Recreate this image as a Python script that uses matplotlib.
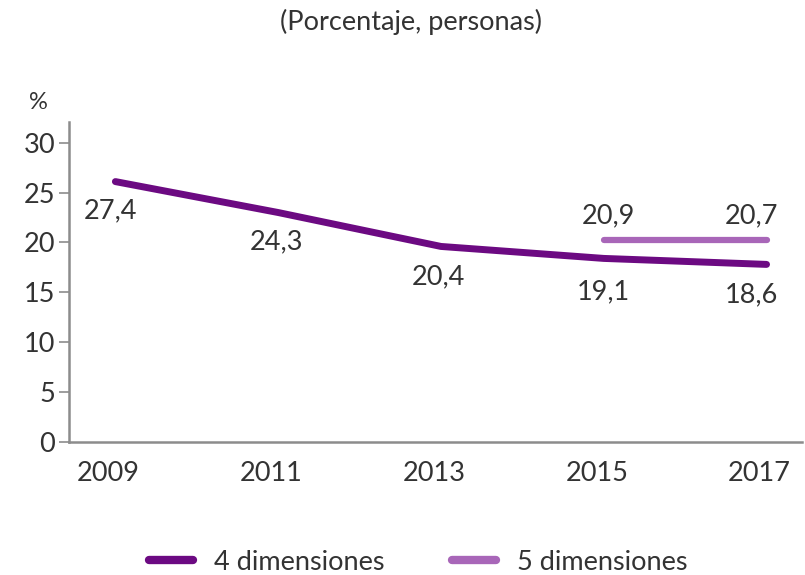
import matplotlib.pyplot as plt
import matplotlib.transforms as mtrans
from matplotlib.lines import Line2D

plt.rcParams['font.family'] = ['Lato', 'DejaVu Sans']

years = [2009, 2011, 2013, 2015, 2017]
dim4 = [26.1, 23.0, 19.6, 18.4, 17.8]
dim4_labels = ['27,4', '24,3', '20,4', '19,1', '18,6']
years5 = [2015, 2017]
dim5 = [20.2, 20.2]
dim5_labels = ['20,9', '20,7']

c4 = '#6c0a82'
c5 = '#a866b8'
txt = '#333333'
axc = '#8c8c8c'
fs = 19.5

fig = plt.figure(figsize=(8.05, 5.75), dpi=100)
ax = fig.add_axes([0.0857, 0.2313, 0.91, 0.557])

ax.plot(years, dim4, color=c4, lw=5, solid_capstyle='round', solid_joinstyle='round')
ax.plot(years5, dim5, color=c5, lw=4.5, solid_capstyle='round')

# label offsets: (pixels in x, data units in y)
px = 81.25
offs4 = [(-5, -2.9), (-2, -2.9), (-3, -3.0), (0, -3.3), (-15, -3.0)]
for x, y, s, (dx, dy) in zip(years, dim4, dim4_labels, offs4):
    ax.text(x + dx / px, y + dy, s, ha='center', va='center', fontsize=fs, color=txt)
offs5 = [(5, 2.5), (-15, 2.5)]
for x, y, s, (dx, dy) in zip(years5, dim5, dim5_labels, offs5):
    ax.text(x + dx / px, y + dy, s, ha='center', va='center', fontsize=fs, color=txt)

ax.set_xlim(2008.43, 2017.43)
ax.set_ylim(0, 32.1)
ax.set_yticks([0, 5, 10, 15, 20, 25, 30])
ax.set_xticks(years)
ax.set_xticklabels([str(y) for y in years])

for s in ['top', 'right']:
    ax.spines[s].set_visible(False)
for s in ['left', 'bottom']:
    ax.spines[s].set_color(axc)
    ax.spines[s].set_linewidth(1.8)

ax.tick_params(axis='y', length=7, width=1.2, color=axc, labelsize=fs, labelcolor=txt, pad=3)
ax.tick_params(axis='x', length=0, labelsize=fs, labelcolor=txt, pad=14)
shift = mtrans.ScaledTranslation(-7 / 100, 0, fig.dpi_scale_trans)
for lab in ax.get_xticklabels():
    lab.set_transform(lab.get_transform() + shift)

fig.text(0.048, 0.822, '%', fontsize=17, color=txt, ha='center', va='center')
fig.text(0.51, 0.962, '(Porcentaje, personas)', fontsize=fs, color=txt, ha='center', va='center')

handles = [Line2D([0], [0], color=c4, lw=6, solid_capstyle='round'),
           Line2D([0], [0], color=c5, lw=6, solid_capstyle='round')]
fig.legend(handles, ['4 dimensiones', '5 dimensiones'], loc='center', bbox_to_anchor=(0.52, 0.022),
           ncol=2, frameon=False, fontsize=fs, handlelength=1.6, handletextpad=0.8,
           columnspacing=2.5, labelcolor=txt)

fig.savefig('out.png', dpi=100)
